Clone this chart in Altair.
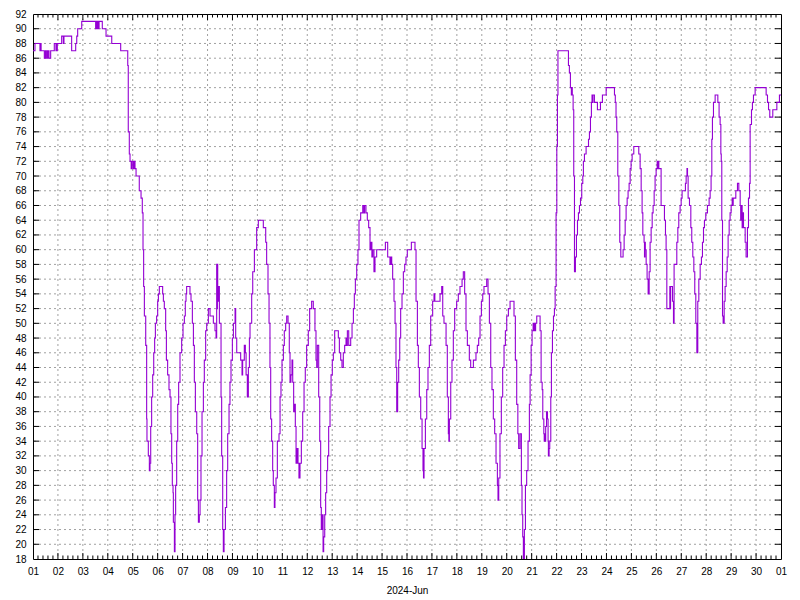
import altair as alt
import pandas as pd

# Relative humidity (%), June 2024; time = hours since 2024-06-01 00:00
seg_jun01_05 = [(0,87),(1.9,88),(6.7,87),(7.4,88),(7.8,87),(10.9,86),(12,87),(12.4,86),(13.5,87),(13.9,86),(15,87),(15.4,86),(17,87),(20.5,88),(22.1,87),(22.6,88),(23,87),(23.4,88),(27.6,89),(29.2,88),(29.8,89),(37.2,87),(41.1,88),(42.1,89),(43,90),(46.9,91),(60.3,90),(61,91),(61.6,90),(62.3,91),(62.9,90),(63.6,91),(66.7,90),(70.3,89),(75.8,88),(84.4,87),(91.2,85),(91.7,76),(92.7,73),(93.4,72),(94.5,71),(95.3,72),(96.5,71),(97.2,72),(98.2,71),(99.2,70),(102.3,68),(104,67),(105.2,65),(105.9,60),(106.5,55)]

seg_jun05_10 = [(107.2,51),(108.5,47),(109.4,37),(109.7,34),(111,32),(112,30),(112.6,31),(113.3,36),(114.2,40),(115.2,43),(116.2,46),(117.1,48),(117.8,50),(119,51),(120,53),(120.7,54),(121.6,55),(124.8,54),(125.5,53),(126.4,52),(127.7,49),(128.4,45),(129.6,43),(130.9,41),(131.9,40),(132.8,35),(133.5,31),(134.1,28),(134.8,27),(135.1,23),(136.1,19),(136.7,24),(137.3,28),(138.3,34),(139.3,39),(140.2,42),(141.5,46),(143.1,48),(144.4,50),(145.7,51),(146.6,53),(147.3,54),(147.9,55),(151.1,54),(152.1,53),(153.4,50),(154.4,47),(155.3,42),(156.3,38),(157.6,35),(158.5,26),(159.2,23),(160.1,24),(160.8,26),(161.7,32),(162.7,38),(164,42),(164.9,45),(166.2,49),(167.2,50),(168.8,52),(170.4,51),(173.6,50),(175.2,49),(176.2,48),(176.8,58),(177.1,52),(177.5,58),(177.8,53),(178.4,55),(179.4,50),(181,40),(181.6,32),(182.6,22),(183.2,19),(183.9,22),(185.2,25),(186.4,30),(187.4,35),(188.7,39),(189.6,42),(190.6,45),(191.9,48),(192.9,50),(194.5,52),(195.1,48),(196.1,46),(199.9,45),(201.2,43),(201.8,45),(203.4,47),(204.4,46),(205.1,43),(206.3,40),(207.3,44),(208.3,48),(208.9,50),(210.5,54),(211.5,57),(213.1,60),(215.3,63),(216.9,64)]

seg_jun10_15 = [(221.7,63),(224,61),(224.9,58),(226.2,54),(227.2,50),(228.1,44),(228.8,37),(229.7,34),(230.7,30),(231.3,28),(232.3,25),(232.9,27),(233.9,29),(235.2,34),(236.8,35),(237.8,40),(238.7,42),(239.7,45),(241,47),(241.9,49),(243.2,50),(244.2,51),(245.5,50),(246.7,46),(247.4,42),(248.3,43),(249.3,45),(250,42),(250.9,38),(251.9,39),(252.5,36),(253.2,31),(254.1,33),(255.1,31),(256,29),(257,31),(258.3,34),(259.6,38),(260.9,42),(262.1,44),(263.4,47),(265,49),(266.3,52),(268.2,53),(269.8,52),(271.4,49),(272.4,45),(273.1,44),(273.7,47),(275,40),(276,34),(276.9,25),(277.5,22),(278.5,24),(279.2,19),(279.8,21),(280.8,24),(281.7,27),(282.7,30),(283.6,32),(284.6,36),(285.9,40),(286.9,43),(288.1,45),(289.1,46),(290.4,49),(293.9,48),(294.9,46),(296.2,45),(297.4,44),(298.7,46),(300,47),(301.3,48),(302,47),(302.6,49),(303.9,47),(305.8,48),(307.1,50),(308.4,52),(309.3,54),(310.3,56),(311.6,58),(312.8,60),(313.8,64),(315.4,65),(317.4,66),(318.5,65),(319.2,66),(320.5,65),(321.8,64),(323.1,63),(324.4,60),(325.4,61),(326.2,59),(327,60),(328.2,57),(329.2,59),(330.8,60),(339.2,61)]

seg_jun15_21 = [(341.4,59),(343.6,58),(344.4,59),(345.3,58),(346.2,56),(347.5,53),(348.5,50),(349.4,44),(350.1,38),(351,42),(352,45),(353,48),(353.9,52),(355.2,54),(356.5,57),(357.8,58),(359,59),(360.3,60),(364.2,61),(367.7,60),(368.7,53),(370,47),(370.9,44),(371.9,40),(373.2,37),(374.5,33),(375.4,30),(375.9,29),(376.4,33),(377.7,37),(379,41),(380.2,44),(381.5,47),(382.8,51),(384.7,53),(386,54),(386.8,53),(391.8,54),(393.4,55),(394.4,51),(395.6,50),(397.6,47),(398.8,40),(399.8,35),(400.3,34),(400.8,37),(402.1,42),(403.3,45),(404.6,49),(405.9,52),(407.8,53),(409.4,54),(411,55),(413,56),(414.2,57),(415.5,54),(416.8,49),(418.1,47),(420,45),(421.3,44),(423.9,45),(426.4,46),(427.7,47),(429,48),(430.3,51),(431.6,53),(432.9,54),(434.1,55),(436.7,56),(438,54),(439.3,50),(440.6,44),(441.8,41),(443.1,37),(444.4,35),(445.7,31),(447,28),(447.6,26),(448.3,29),(449.5,35),(450.8,40),(452.1,44),(453.4,47),(454.7,49),(456,51),(457.6,52),(459.2,53),(463,51),(464.3,45),(465.6,39),(466.7,35),(467.5,33),(468.8,35),(470.1,28),(470.7,24),(471.4,21),(472,18),(473,22),(474,28),(475.2,30),(476.5,34),(477.8,39),(478.5,43),(479.5,47),(480.4,49),(481.4,50),(482,49),(482.6,50),(483.2,49),(483.8,50),(484.9,51)]

seg_jun21_26 = [(488.1,49),(489.1,42),(490.1,41),(490.7,37),(491.7,35),(492.1,34),(492.6,35),(493,34),(493.5,36),(494.3,38),(495.2,37),(495.8,34),(496.1,32),(496.8,33),(497.4,34),(498.4,40),(499,46),(500,49),(501,51),(501.9,52),(502.6,55),(503.5,65),(504.2,74),(504.8,81),(505.3,87),(515.4,85),(516.3,84),(517.3,82),(518.2,81),(518.6,82),(519.1,81),(519.9,79),(520.5,70),(521.2,57),(522.1,59),(523.1,62),(524.1,64),(525,65),(526,66),(527,67),(528.2,69),(529.2,70),(529.8,72),(530.8,73),(532.4,74),(534.7,75),(535.6,76),(536.6,78),(537.5,80),(538.1,81),(538.5,80),(539,81),(540.4,80),(543.3,79),(546.2,80),(548.1,81),(551.7,82),(559.7,81),(560.5,80),(561.2,78),(561.9,76),(562.9,70),(563.9,66),(564.8,61),(565.8,59),(568,60),(569,62),(570,64),(570.9,66),(571.9,67),(572.8,68),(573.8,69),(574.8,71),(575.7,72),(576.7,73),(578.3,74),(583.1,73),(584.4,71),(585.4,68),(586.3,65),(587,62),(588.2,61),(588.6,59),(589,61),(589.4,60),(590.2,58),(591.1,56),(592.1,54),(593.1,57),(594,61),(595,63),(596,65),(596.9,66),(597.9,68),(598.8,70),(599.8,71),(600.8,72),(601.5,71),(602,72),(602.4,71),(604.6,66),(607.8,64),(608.8,62),(609.4,60)]

seg_jun26_30 = [(610.1,52),(613,55),(613.3,52),(613.7,55),(615.5,53),(616.5,50),(617.1,58),(619.7,61),(620.7,63),(621.6,65),(622.9,66),(623.9,67),(624.8,68),(628,69),(628.7,70),(629.5,71),(630,70),(630.6,67),(631.9,66),(633.2,63),(634.1,61),(635.1,59),(636.1,57),(637,54),(638,50),(639,46),(639.9,53),(640.9,56),(642.2,58),(643.4,59),(644.4,61),(645.4,63),(646.3,64),(647.6,65),(649.2,66),(650.8,67),(651.8,68),(652.7,70),(653.4,75),(654,78),(655,80),(656.6,81),(659.2,80),(660.4,78),(661.4,77),(662.1,73),(662.5,72),(663,64),(663.7,51),(664.3,50),(665.3,53),(666.2,55),(667.2,57),(668.2,59),(669.1,62),(670.1,64),(671,65),(672,66),(673,67),(673.5,66),(674,67),(676.5,68),(678.1,69),(679.4,68),(680.7,66),(681.2,64),(681.6,66),(682.6,63),(683.2,65),(683.9,63),(685.5,61),(686.4,59),(687.7,63),(688.7,67),(689.7,69),(690.3,77),(691.6,79),(692.5,80),(693.5,81),(695.1,82),(705.7,81),(707,80),(708,79),(709.2,78),(712.1,79),(716,80),(718.5,81),(720,81)]

day_ticks = list(range(0, 721, 24))          # one per day, 01 .. 01
y_ticks = list(range(18, 93, 2))             # 18 .. 92
minor_ticks = [d + k * 4.8 for d in range(0, 720, 24) for k in range(1, 5)]

segments = seg_jun01_05 + seg_jun05_10 + seg_jun10_15 + seg_jun15_21 + seg_jun21_26 + seg_jun26_30
df = pd.DataFrame(segments, columns=["h", "v"])

W, H = 748, 545
FONT = "Liberation Sans"
GRID = "#a0a0a0"

x_scale = alt.Scale(domain=[0, 720], nice=False, zero=False)
y_scale = alt.Scale(domain=[18, 92], nice=False, zero=False)

x_axis = alt.Axis(
    values=day_ticks, ticks=False, domain=False, grid=False,
    labelExpr="datum.value >= 720 ? '01' : (floor(datum.value/24)+1 < 10 ? '0' + (floor(datum.value/24)+1) : '' + (floor(datum.value/24)+1))",
    labelFont=FONT, labelFontSize=10, labelColor="black", labelPadding=7,
    labelFlush=False, labelOverlap=False,
    titleFont=FONT, titleFontSize=10, titleFontWeight="normal", titleColor="black", titlePadding=9,
)
y_axis = alt.Axis(
    values=y_ticks, ticks=False, domain=False, grid=False,
    labelFont=FONT, labelFontSize=10, labelColor="black", labelPadding=7,
    labelFlush=False, labelOverlap=False, title=None,
)

def X(): return alt.X("h:Q", scale=x_scale, axis=x_axis, title="2024-Jun")
def Y(): return alt.Y("v:Q", scale=y_scale, axis=y_axis, title=None)

gx = alt.Chart(pd.DataFrame({"h": day_ticks[1:-1]})).mark_rule(
    color=GRID, strokeDash=[2, 3], strokeWidth=1).encode(x=X())
gy = alt.Chart(pd.DataFrame({"v": y_ticks[1:-1]})).mark_rule(
    color=GRID, strokeDash=[2, 3], strokeWidth=1).encode(y=Y())

ydf = pd.DataFrame({"v": y_ticks[1:-1]})
tl = alt.Chart(ydf).mark_rule(color="black").encode(y=Y(), x=alt.value(0), x2=alt.value(6))
tr = alt.Chart(ydf).mark_rule(color="black").encode(y=Y(), x=alt.value(W - 6), x2=alt.value(W))

xdf = pd.DataFrame({"h": day_ticks[1:-1]})
tb = alt.Chart(xdf).mark_rule(color="black").encode(x=X(), y=alt.value(H - 6), y2=alt.value(H))
tt = alt.Chart(xdf).mark_rule(color="black").encode(x=X(), y=alt.value(0), y2=alt.value(6))

mdf = pd.DataFrame({"h": minor_ticks})
mb = alt.Chart(mdf).mark_rule(color="black").encode(x=X(), y=alt.value(H - 3.5), y2=alt.value(H))
mt = alt.Chart(mdf).mark_rule(color="black").encode(x=X(), y=alt.value(0), y2=alt.value(3.5))

line = alt.Chart(df).mark_line(
    interpolate="step-after", color="#9400D3", strokeWidth=1.1, clip=True
).encode(x=X(), y=Y())

chart = alt.layer(gx, gy, tl, tr, tb, tt, mb, mt, line).properties(
    width=W, height=H,
    padding={"left": 25, "top": 6, "right": 10, "bottom": 40},
    autosize=alt.AutoSizeParams(type="none"),
    background="white",
).configure_view(stroke="black", strokeWidth=1)

chart.save("out.html", embed_options={"renderer": "svg", "actions": False})
